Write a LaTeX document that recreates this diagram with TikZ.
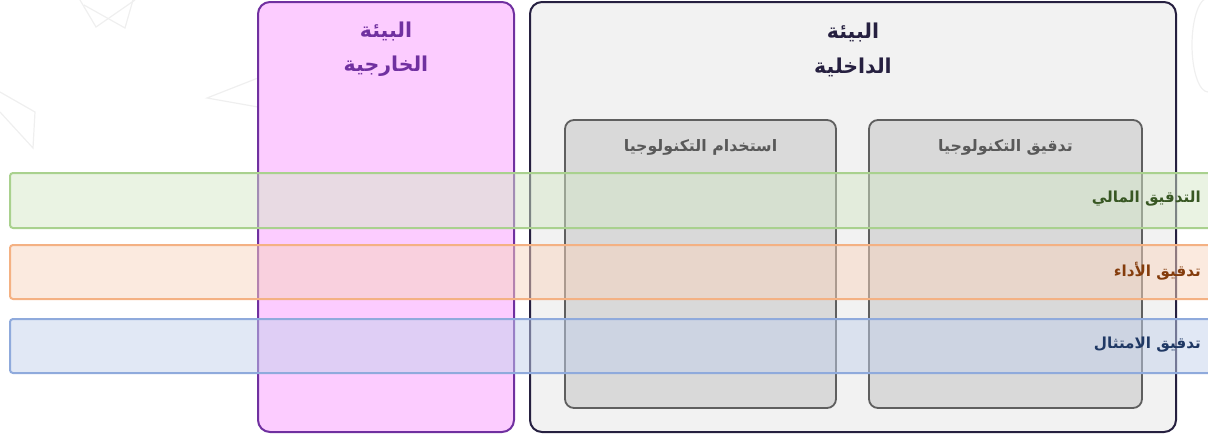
\documentclass[tikz,border=0pt]{standalone}
\usepackage{fontspec}
\TeXXeTstate=1
\newfontfamily\arabicfont[Script=Arabic]{DejaVu Sans}
\definecolor{extfill}{HTML}{FCCCFF}
\definecolor{extline}{HTML}{7030A0}
\definecolor{intfill}{HTML}{F2F2F2}
\definecolor{intline}{HTML}{262040}
\definecolor{subfill}{HTML}{D9D9D9}
\definecolor{subline}{HTML}{5F5F5F}
\definecolor{subtext}{HTML}{595959}
\definecolor{gfill}{HTML}{D5E8C8}
\definecolor{gline}{HTML}{A9D18E}
\definecolor{gtext}{HTML}{385723}
\definecolor{ofill}{HTML}{F8D5BF}
\definecolor{oline}{HTML}{F4B183}
\definecolor{otext}{HTML}{843C0C}
\definecolor{bfill}{HTML}{C3D1EC}
\definecolor{bline}{HTML}{8FAADC}
\definecolor{btext}{HTML}{1F3864}
\definecolor{faint}{HTML}{EFEFEF}
\tikzset{
  bigbox/.style={rounded corners=12pt, line width=2pt},
  subbox/.style={draw=subline, fill=subfill, rounded corners=9pt, line width=1.8pt},
  band/.style={rounded corners=3pt, line width=2pt, fill opacity=0.5},
  hdr/.style={font=\arabicfont\bfseries\fontsize{20.5}{24}\selectfont, align=center},
  subhdr/.style={font=\arabicfont\bfseries\fontsize{15.8}{19}\selectfont, text=subtext},
  bandtxt/.style={font=\arabicfont\bfseries\fontsize{15.2}{18}\selectfont, anchor=east, inner sep=0pt},
  deco/.style={draw=faint, line width=1.2pt}
}
\begin{document}
\begin{tikzpicture}[x=1pt, y=-1pt]
\useasboundingbox (0,0) rectangle (1208,434);
% faint decorations
\draw[deco] (80,0) -- (96,27) -- (135,0);
\draw[deco] (84,5) -- (125,28) -- (133,0);
\draw[deco] (0,92) -- (35,112) -- (33,148) -- (0,112);
\draw[deco] (258,78) -- (207,98) -- (258,107);
\draw[deco] (1208,92) arc[start angle=90, end angle=270, x radius=16, y radius=47];
% outer boxes
\node[draw=extline, fill=extfill, bigbox, minimum width=256pt, minimum height=430pt, inner sep=0pt] (ext) at (386,217) {};
\node[draw=intline, fill=intfill, bigbox, minimum width=646pt, minimum height=430pt, inner sep=0pt] (int) at (853,217) {};
\node[hdr, text=extline] (exth1) at (386,31) {\beginR البيئة\endR};
\node[hdr, text=extline] (exth2) at (386,66) {\beginR الخارجية\endR};
\node[hdr, text=intline] (inth1) at (853,32) {\beginR البيئة\endR};
\node[hdr, text=intline] (inth2) at (853,67) {\beginR الداخلية\endR};
% sub boxes
\node[subbox, minimum width=271pt, minimum height=288pt, inner sep=0pt] (use) at (700.5,264) {};
\node[subbox, minimum width=273pt, minimum height=288pt, inner sep=0pt] (audit) at (1005.5,264) {};
\node[subhdr] (useh) at (700.5,147) {\beginR استخدام التكنولوجيا\endR};
\node[subhdr] (audith) at (1005.5,147) {\beginR تدقيق التكنولوجيا\endR};
% bands
\draw[band, draw=gline, fill=gfill] (10,173) rectangle (1230,228);
\draw[band, draw=oline, fill=ofill] (10,245) rectangle (1230,299);
\draw[band, draw=bline, fill=bfill] (10,319) rectangle (1230,373);
\coordinate (gR) at (1201,199);
\coordinate (oR) at (1201,271);
\coordinate (bR) at (1201,345);
\node[bandtxt, text=gtext] (gt) at (gR) {\beginR التدقيق المالي\endR};
\node[bandtxt, text=otext] (ot) at (oR) {\beginR تدقيق الأداء\endR};
\node[bandtxt, text=btext] (bt) at (bR) {\beginR تدقيق الامتثال\endR};
\end{tikzpicture}
\end{document}
